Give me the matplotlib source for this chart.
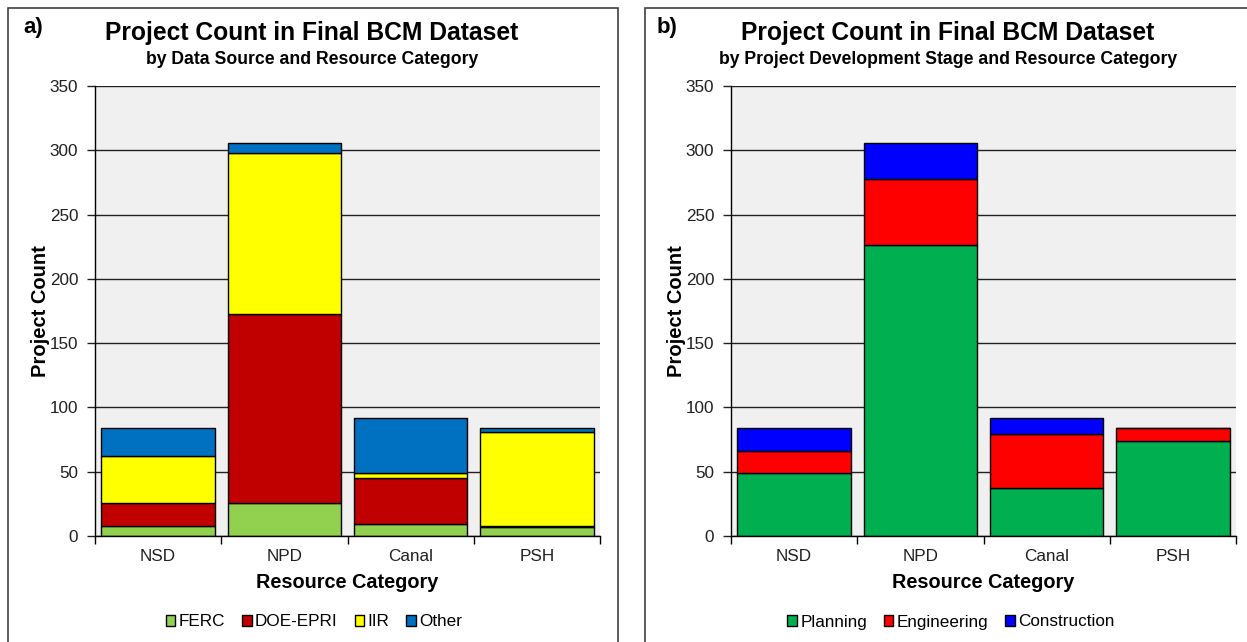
import matplotlib
matplotlib.use("Agg")
import matplotlib.pyplot as plt
from matplotlib.patches import Rectangle
import numpy as np

plt.rcParams['font.family'] = ['Liberation Sans', 'DejaVu Sans']

categories = ["NSD", "NPD", "Canal", "PSH"]

# Panel a: by data source
source_names = ["FERC", "DOE-EPRI", "IIR", "Other"]
ferc = [8, 26, 9, 7]
doe_epri = [18, 147, 36, 1]
iir = [36, 125, 4, 73]
other = [22, 8, 43, 3]
source_colors = ["#92D050", "#C00000", "#FFFF00", "#0070C0"]

# Panel b: by development stage
stage_names = ["Planning", "Engineering", "Construction"]
planning = [49, 226, 37, 74]
engineering = [17, 52, 42, 10]
construction = [18, 28, 13, 0]
stage_colors = ["#00B050", "#FF0000", "#0000FF"]

W, H = 1247, 642
fig = plt.figure(figsize=(W / 100, H / 100), dpi=100)
fig.patch.set_facecolor("white")

# panel borders
fig.add_artist(Rectangle((8 / W, -0.01), 610 / W, 1 - 8 / H + 0.01, transform=fig.transFigure,
                         fill=False, edgecolor="#404040", lw=1.2))
fig.add_artist(Rectangle((645 / W, -0.01), 620 / W, 1 - 8 / H + 0.01, transform=fig.transFigure,
                         fill=False, edgecolor="#404040", lw=1.2))


def make_panel(left_px, series, names, colors, letter, letter_px, subtitle, center_px,
               legend_center_px):
    ax = fig.add_axes([left_px / W, 1 - 536 / H, 505 / W, 450 / H])
    ax.set_facecolor("#F0F0F0")
    x = np.arange(len(categories))
    bottom = np.zeros(len(categories))
    handles = []
    for vals, name, col in zip(series, names, colors):
        vals = np.array(vals, dtype=float)
        b = ax.bar(x, vals, 0.9, bottom=bottom, color=col, edgecolor="black",
                   linewidth=1.0, label=name, zorder=3)
        handles.append(b)
        bottom += vals
    ax.set_xlim(-0.5, 3.5)
    ax.set_ylim(0, 350)
    ax.set_yticks(np.arange(0, 351, 50))
    ax.set_xticks(x)
    ax.set_xticklabels(categories)
    ax.set_xticks(np.arange(-0.5, 3.6, 1.0), minor=True)
    ax.tick_params(axis="x", which="major", length=0, pad=9.5, labelsize=12.3, colors="#202020")
    ax.tick_params(axis="x", which="minor", length=6, width=1, direction="out", color="black")
    ax.tick_params(axis="y", length=6, width=1, direction="out", pad=6, labelsize=12.3,
                   colors="#202020")
    ax.yaxis.grid(True, color="#202020", lw=1.0, zorder=1)
    for s in ["top", "right"]:
        ax.spines[s].set_visible(False)
    for s in ["left", "bottom"]:
        ax.spines[s].set_color("black")
        ax.spines[s].set_linewidth(1.0)
        ax.spines[s].set_zorder(4)
    ax.set_ylabel("Project Count", fontsize=14.5, fontweight="bold", labelpad=0)
    ax.set_xlabel("Resource Category", fontsize=14.3, fontweight="bold", labelpad=6)

    fig.text(center_px / W, 1 - 33 / H, "Project Count in Final BCM Dataset",
             ha="center", va="center", fontsize=17.7, fontweight="bold")
    fig.text(center_px / W, 1 - 59 / H, subtitle, ha="center", va="center",
             fontsize=12.7, fontweight="bold")
    fig.text(letter_px / W, 1 - 28 / H, letter, ha="left", va="center",
             fontsize=16, fontweight="bold")
    fig.legend(handles=handles, labels=names, loc="center",
               bbox_to_anchor=(legend_center_px / W, 1 - 622 / H), ncol=len(names),
               frameon=False, fontsize=12.3, handlelength=0.55, handleheight=0.55,
               handletextpad=0.2, columnspacing=1.0)
    return ax


make_panel(95, [ferc, doe_epri, iir, other], source_names, source_colors, "a)", 23,
           "by Data Source and Resource Category", 312, 314)
make_panel(731, [planning, engineering, construction], stage_names, stage_colors, "b)", 657,
           "by Project Development Stage and Resource Category", 948, 951)

fig.savefig("out.png", dpi=100)
